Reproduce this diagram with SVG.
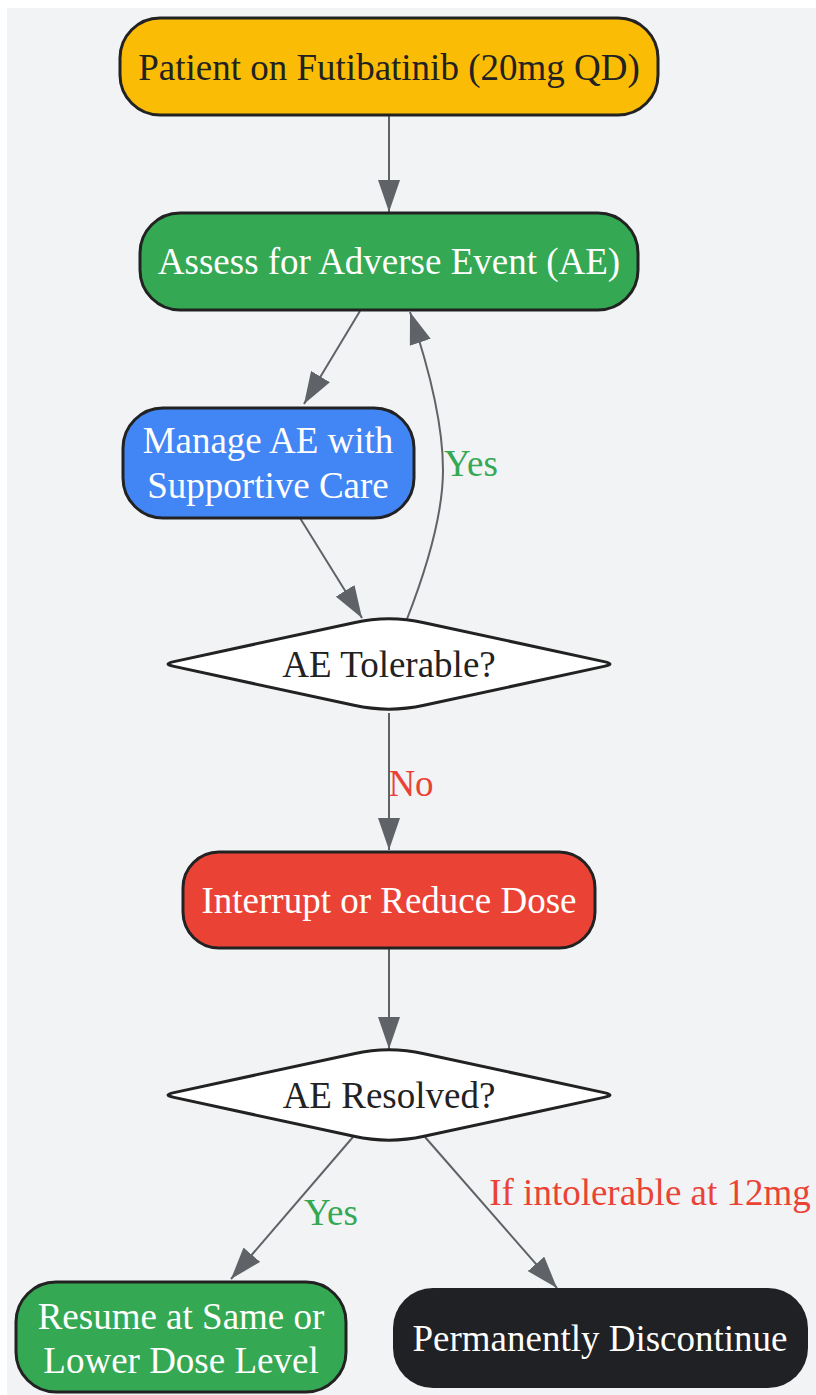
<svg xmlns="http://www.w3.org/2000/svg" width="816" height="1395" viewBox="0 0 816 1395">
<defs>
<style>
.node{stroke:#222222;stroke-width:3}
.t{font-family:"Liberation Serif","Times New Roman",serif;font-size:37px;text-anchor:middle}
.w{fill:#ffffff}
.d{fill:#222222}
.edge{fill:none;stroke:#5f6368;stroke-width:2}
.lbl{font-family:"Liberation Serif","Times New Roman",serif;font-size:37px;text-anchor:middle}
</style>
<marker id="arr" markerUnits="userSpaceOnUse" markerWidth="32" markerHeight="22" refX="32" refY="11" orient="auto" viewBox="0 0 32 22">
<path d="M0,0 L32,11 L0,22 Z" fill="#5f6368"/>
</marker>
</defs>
<rect x="7" y="8" width="809" height="1387" fill="#f1f3f5"/>

<g id="connectors">
<path class="edge" d="M389,115 L389,212" marker-end="url(#arr)"/>
<path class="edge" d="M360,311 L304,404" marker-end="url(#arr)"/>
<path class="edge" d="M300,518 L362,618" marker-end="url(#arr)"/>
<path class="edge" d="M407,619 C430,560 443,510 443,470 C443,420 428,365 410,312" marker-end="url(#arr)"/>
<path class="edge" d="M389,713 L389,850" marker-end="url(#arr)"/>
<path class="edge" d="M389,949 L389,1049" marker-end="url(#arr)"/>
<path class="edge" d="M353,1137 L231,1279" marker-end="url(#arr)"/>
<path class="edge" d="M425,1137 L557,1288" marker-end="url(#arr)"/>
<text class="lbl" x="471" y="476" fill="#34a853">Yes</text>
<text class="lbl" x="411" y="796" fill="#ea4335">No</text>
<text class="lbl" x="331" y="1225" fill="#34a853">Yes</text>
<text class="lbl" x="650" y="1205" fill="#ea4335">If intolerable at 12mg</text>
</g>

<g id="patient">
<rect class="node" x="120" y="18" width="538" height="97" rx="40" fill="#fbbc05"/>
<text class="t d" x="389" y="80">Patient on Futibatinib (20mg QD)</text>
</g>

<g id="assess">
<rect class="node" x="140" y="213" width="498" height="97" rx="40" fill="#34a853"/>
<text class="t w" x="389" y="274">Assess for Adverse Event (AE)</text>
</g>

<g id="manage">
<rect class="node" x="123" y="408" width="291" height="110" rx="40" fill="#4285f4"/>
<text class="t w" x="268" y="453">Manage AE with</text>
<text class="t w" x="268" y="498">Supportive Care</text>
</g>

<g id="tolerable">
<path class="node" fill="#ffffff" d="M354,622.7 Q389,615 424,622.7 L604,661.6 Q616,664 604,666.4 L424,705.3 Q389,713 354,705.3 L174,666.4 Q162,664 174,661.6 Z"/>
<text class="t d" x="389" y="677">AE Tolerable?</text>
</g>

<g id="interrupt">
<rect class="node" x="183" y="852" width="412" height="96" rx="36" fill="#ea4335"/>
<text class="t w" x="389" y="913">Interrupt or Reduce Dose</text>
</g>

<g id="resolved">
<path class="node" fill="#ffffff" d="M354,1053.7 Q389,1046 424,1053.7 L604,1092.6 Q616,1095 604,1097.4 L424,1136.3 Q389,1144 354,1136.3 L174,1097.4 Q162,1095 174,1092.6 Z"/>
<text class="t d" x="389" y="1108">AE Resolved?</text>
</g>

<g id="resume">
<rect class="node" x="16" y="1282" width="330" height="110" rx="40" fill="#34a853"/>
<text class="t w" x="181" y="1329">Resume at Same or</text>
<text class="t w" x="181" y="1373">Lower Dose Level</text>
</g>

<g id="discontinue">
<rect x="393" y="1288" width="415" height="100" rx="40" fill="#202124"/>
<text class="t w" x="600" y="1351">Permanently Discontinue</text>
</g>
</svg>
